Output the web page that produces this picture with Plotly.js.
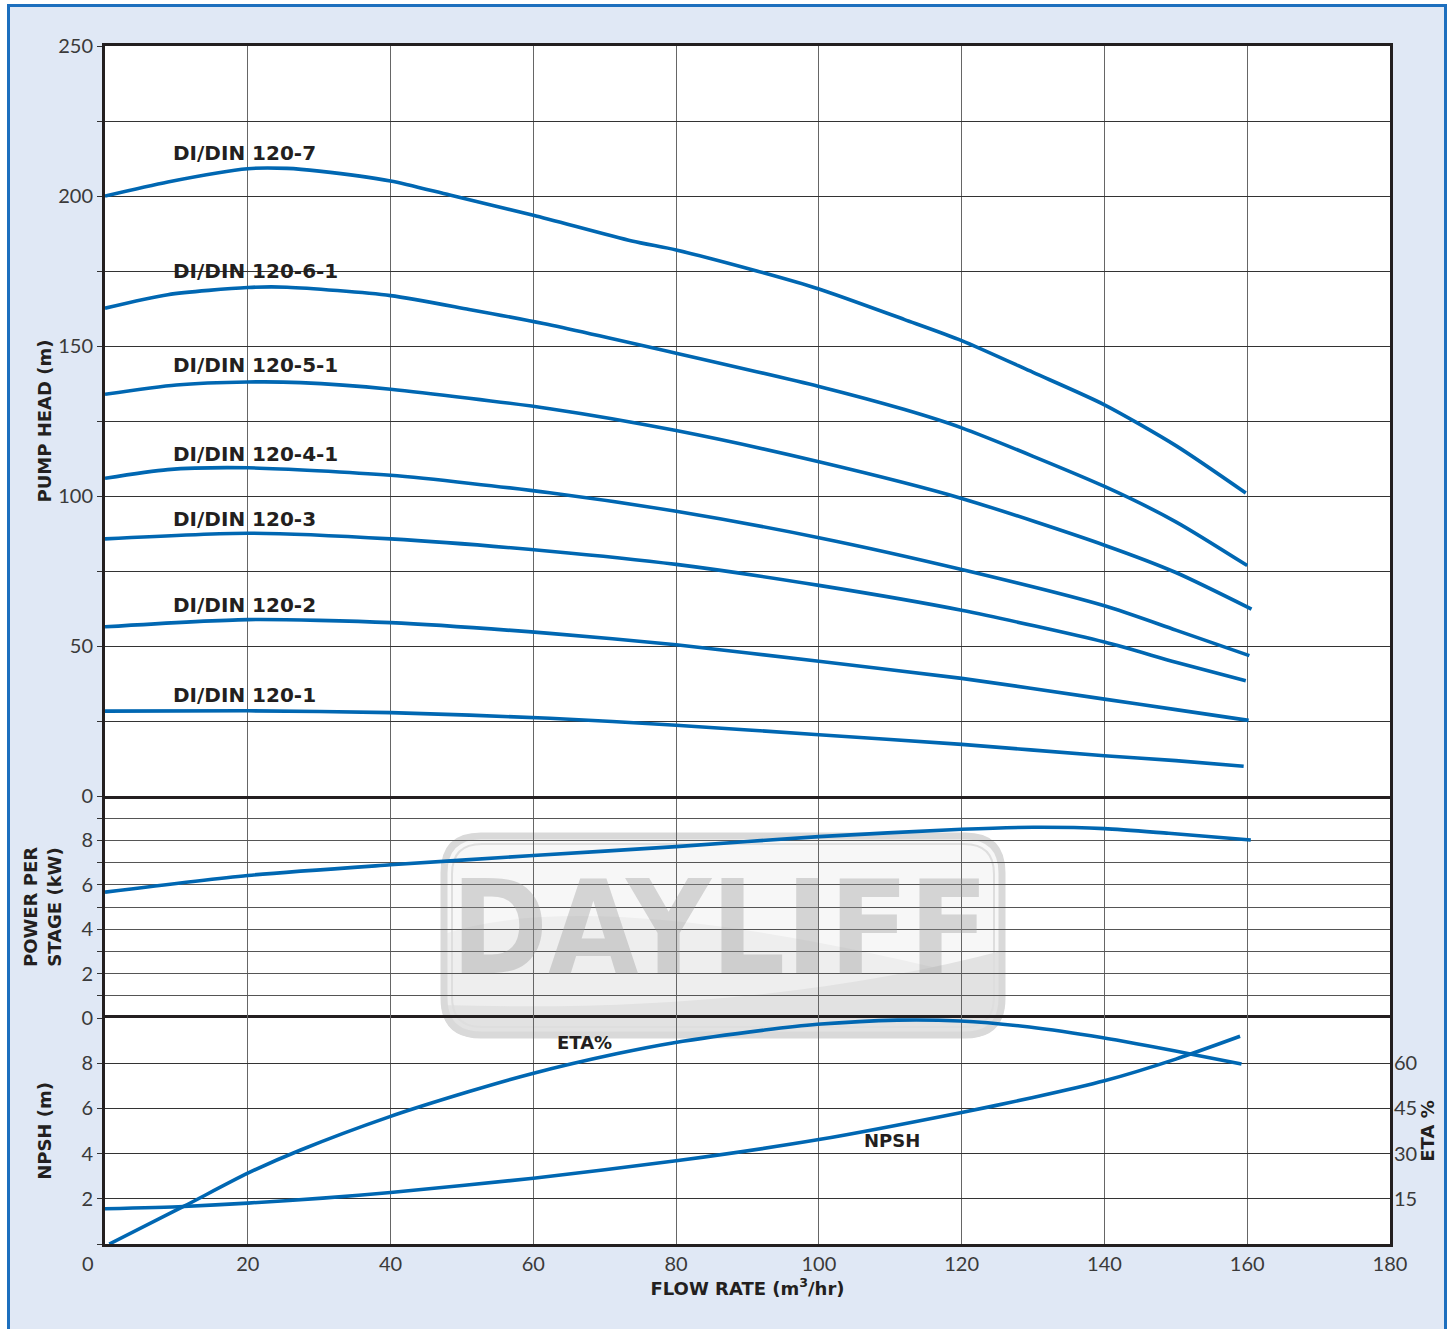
<!DOCTYPE html>
<html><head><meta charset="utf-8">
<script src="https://cdn.plot.ly/plotly-3.0.1.min.js"></script>
<style>
html,body{margin:0;padding:0;background:#fff;overflow:hidden;}
#frame{position:absolute;left:7px;top:4px;width:1434px;height:1325px;border:3px solid #1d6fbe;border-bottom:none;background:#e0e8f5;}
#chart{position:absolute;left:10px;top:7px;width:1434px;height:1322px;}
</style></head><body>
<div id="frame"></div>
<div id="chart"></div>
<script>
// ---------- DATA ----------
const flow7   = [0, 8.8, 20, 25.5, 30, 40, 48.3, 60, 73.8, 80, 91.3, 100, 112, 120, 130, 140, 150, 159.8];
const head7   = [200, 204.7, 209.1, 209.2, 208.3, 205, 200.3, 193.6, 185, 182, 175, 169, 158.8, 151.8, 141.2, 130.4, 116.8, 101];
const flow6   = [0, 8.8, 20, 25.5, 40, 51, 61.4, 80, 100, 112, 120, 140, 150, 160];
const head6   = [162.6, 167.1, 169.5, 169.6, 166.8, 162.2, 157.5, 147.6, 136.5, 128.8, 122.7, 103.2, 91.4, 76.8];
const flow5   = [0, 10, 20, 27.4, 40, 62.3, 80, 100, 120, 140, 150, 160.6];
const head5   = [133.9, 137, 138, 137.8, 135.6, 129.1, 121.8, 111.4, 99.2, 83.6, 74.5, 62.3];
const flow4   = [0, 8.8, 20, 40, 62.3, 80, 100, 120, 140, 150, 160.3];
const head4   = [105.9, 108.8, 109.4, 106.9, 101.1, 94.9, 86.1, 75.5, 63.4, 55.3, 46.8];
const flow3   = [0, 20, 40, 62.3, 80, 100, 120, 140, 150, 159.8];
const head3   = [85.7, 87.6, 85.7, 81.6, 77.2, 70.2, 61.9, 51.3, 44.6, 38.4];
const flow2   = [0, 20, 40, 62.3, 80, 100, 120, 140, 150, 160.2];
const head2   = [56.4, 58.8, 57.8, 54.2, 50.4, 44.9, 39.2, 32.3, 28.8, 25.2];
const flow1   = [0, 20, 40, 62.3, 80, 100, 120, 140, 150, 159.5];
const head1   = [28.3, 28.4, 27.8, 25.9, 23.6, 20.4, 17.2, 13.4, 11.8, 9.9];

const flowP   = [0, 20, 40, 60, 80, 100, 120, 130, 140, 149, 160.5];
const powerKW = [5.67, 6.42, 6.9, 7.32, 7.72, 8.17, 8.5, 8.59, 8.53, 8.32, 8.02];

const flowN   = [0, 11, 20, 30.5, 40, 60, 80, 100, 120, 130, 140, 150, 159];
const npsh    = [1.56, 1.66, 1.81, 2.03, 2.28, 2.91, 3.68, 4.62, 5.82, 6.48, 7.22, 8.18, 9.19];

const flowE   = [0.6, 11, 20, 27.4, 39.8, 51, 59.9, 71.8, 79.7, 92.4, 99.8, 111, 119.8, 129.5, 139.6, 152.2, 159.2];
const etaPct  = [0, 12.45, 23.5, 31.2, 42.2, 50.6, 56.6, 63.2, 66.8, 71, 72.9, 74.3, 74, 72, 68.5, 63, 59.7];

const curveNames = ['DI/DIN 120-7','DI/DIN 120-6-1','DI/DIN 120-5-1','DI/DIN 120-4-1','DI/DIN 120-3','DI/DIN 120-2','DI/DIN 120-1'];
const curveFlows = [flow7, flow6, flow5, flow4, flow3, flow2, flow1];
const curveHeads = [head7, head6, head5, head4, head3, head2, head1];
const labelHead  = [214.3, 175, 143.7, 114, 92.3, 63.7, 33.7];
const labelFlow  = 9.3;

const xTickVals  = [0,20,40,60,80,100,120,140,160,180];
const xTickText  = ['','20','40','60','80','100','120','140','160','180'];
const headTickVals = [0,25,50,75,100,125,150,175,200,225,250];
const headTickText = ['','','50','','100','','150','','200','','250'];
const powTickVals  = [0,1,2,3,4,5,6,7,8,9,10];
const powTickText  = ['','','2','','4','','6','','8','','0'];
const npshTickVals = [0,2,4,6,8,10];
const npshTickText = ['','2','4','6','8','0'];
const etaTickVals  = [15,30,45,60];
const etaTickText  = ['15','30','45','60'];

// ---------- STYLE ----------
const BLUE = '#0067b2';
const INK = '#231f20';
const TICKFONT = {family:'Lato, "Open Sans", sans-serif', size:20, color:'#3a3a3a'};
const BOLD = 'DejaVu Sans, sans-serif';
const d1 = (1244-1018)/1198, d2 = (1244-796)/1198;
const PX = p => (p-105)/1285, PY = p => (1244-p)/1198;

const lineStyle = {color:BLUE, width:3.6, shape:'spline', smoothing:0.7};
const traces = [];
curveNames.forEach((n,i)=>{
  traces.push({x:curveFlows[i], y:curveHeads[i], name:n, type:'scatter', mode:'lines',
    line:lineStyle, xaxis:'x3', yaxis:'y3', showlegend:false});
});
traces.push({x:flowP, y:powerKW, name:'Power per stage', type:'scatter', mode:'lines', line:lineStyle, xaxis:'x2', yaxis:'y2', showlegend:false});
traces.push({x:flowN, y:npsh, name:'NPSH', type:'scatter', mode:'lines', line:lineStyle, xaxis:'x', yaxis:'y', showlegend:false});
traces.push({x:flowE, y:etaPct, name:'ETA%', type:'scatter', mode:'lines', line:lineStyle, xaxis:'x', yaxis:'y4', showlegend:false});

const xBase = {range:[0,180], tickvals:xTickVals, ticktext:xTickText, showgrid:true, gridcolor:'#666', gridwidth:1,
  zeroline:false, ticks:'', tickfont:TICKFONT, fixedrange:true};
const yBase = {showgrid:true, gridcolor:'#333', gridwidth:1, zeroline:false, showline:true, mirror:true,
  linecolor:INK, linewidth:3, ticks:'outside', ticklen:5, tickcolor:'#333', tickfont:TICKFONT, fixedrange:true};
const titleFont = {family:BOLD, size:18, color:INK};

// logo helpers (decoration only)
function rr(x0,y0,x1,y1,r){
  const a=PX(x0),b=PX(x1),t=PY(y0),u=PY(y1),rx=r/1285,ry=r/1198;
  return `M${a+rx},${t} L${b-rx},${t} Q${b},${t} ${b},${t-ry} L${b},${u+ry} Q${b},${u} ${b-rx},${u} L${a+rx},${u} Q${a},${u} ${a},${u+ry} L${a},${t-ry} Q${a},${t} ${a+rx},${t} Z`;
}
function wave(yl, cx, cy, yr, r){
  const a=PX(441),b=PX(1005),u=PY(1038),rx=r/1285,ry=r/1198;
  return `M${a},${PY(yl)} Q${PX(cx)},${PY(cy)} ${b},${PY(yr)} L${b},${u+ry} Q${b},${u} ${b-rx},${u} L${a+rx},${u} Q${a},${u} ${a},${u+ry} Z`;
}
const shapes = [
  {type:'path', xref:'paper', yref:'paper', layer:'below', path:rr(441,833,1005,1038,40), fillcolor:'#f7f7f7', line:{width:0}},
  {type:'path', xref:'paper', yref:'paper', layer:'below', path:wave(935,600,880,985,40), fillcolor:'#eeeeee', line:{width:0}},
  {type:'path', xref:'paper', yref:'paper', layer:'below', path:wave(1005,760,1015,950,40), fillcolor:'#e2e2e2', line:{width:0}},
  {type:'path', xref:'paper', yref:'paper', layer:'below', path:rr(444,836,1002,1035,37), fillcolor:'rgba(0,0,0,0)', line:{color:'#d9d9d9', width:7}},
  {type:'path', xref:'paper', yref:'paper', layer:'below', path:rr(452,844,994,1027,30), fillcolor:'rgba(0,0,0,0)', line:{color:'#dedede', width:2}}
];

const annotations = [];
curveNames.forEach((n,i)=>{
  annotations.push({x:labelFlow, y:labelHead[i], xref:'x3', yref:'y3', text:'<b>'+n+'</b>', showarrow:false,
    xanchor:'left', yanchor:'middle', font:{family:BOLD, size:20, color:INK}});
});
annotations.push({x:63, y:8.9, xref:'x', yref:'y', text:'<b>ETA%</b>', showarrow:false, xanchor:'left', yanchor:'middle', font:{family:BOLD, size:18, color:INK}});
annotations.push({x:106, y:4.56, xref:'x', yref:'y', text:'<b>NPSH</b>', showarrow:false, xanchor:'left', yanchor:'middle', font:{family:BOLD, size:18, color:INK}});
annotations.push({x:PX(88), y:PY(1263), xref:'paper', yref:'paper', text:'0', showarrow:false, xanchor:'center', yanchor:'middle', font:TICKFONT});
annotations.push({x:PX(720), y:PY(928), xref:'paper', yref:'paper', text:'<b>DAYLIFF</b>', showarrow:false, xanchor:'center', yanchor:'middle',
  font:{family:'"Liberation Sans Narrow", "DejaVu Sans Condensed", sans-serif', size:130, color:'rgba(150,150,150,0.36)'}});

const layout = {
  width:1434, height:1322,
  margin:{l:95, r:54, t:39, b:85},
  paper_bgcolor:'rgba(0,0,0,0)', plot_bgcolor:'#ffffff',
  showlegend:false,
  xaxis: Object.assign({}, xBase, {anchor:'y', showline:true, mirror:true, linecolor:INK, linewidth:3,
     title:{text:'<b>FLOW RATE (m<sup>3</sup>/hr)</b>', font:titleFont, standoff:2}}),
  xaxis2: Object.assign({}, xBase, {anchor:'y2', showticklabels:false, showline:false}),
  xaxis3: Object.assign({}, xBase, {anchor:'y3', showticklabels:false, showline:true, mirror:true, linecolor:INK, linewidth:3}),
  yaxis: Object.assign({}, yBase, {domain:[0,d1], range:[0,10], tickvals:npshTickVals, ticktext:npshTickText,
     title:{text:'<b>NPSH (m)</b>', font:titleFont, standoff:26}}),
  yaxis2: Object.assign({}, yBase, {domain:[d1,d2], range:[0,10], tickvals:powTickVals, ticktext:powTickText, gridcolor:'#555',
     title:{text:'<b>POWER PER<br>STAGE (kW)</b>', font:titleFont, standoff:16}}),
  yaxis3: Object.assign({}, yBase, {domain:[d2,1], range:[0,250], tickvals:headTickVals, ticktext:headTickText,
     title:{text:'<b>PUMP HEAD (m)</b>', font:titleFont, standoff:2}}),
  yaxis4: {overlaying:'y', side:'right', anchor:'x', range:[0,75], tickvals:etaTickVals, ticktext:etaTickText,
     showgrid:false, zeroline:false, showline:false, ticks:'', ticklabelstandoff:3, tickfont:TICKFONT, fixedrange:true,
     title:{text:'<b>ETA %</b>', font:titleFont, standoff:0}},
  shapes: shapes,
  annotations: annotations
};
Plotly.newPlot('chart', traces, layout, {displayModeBar:false, staticPlot:true});
</script></body></html>
